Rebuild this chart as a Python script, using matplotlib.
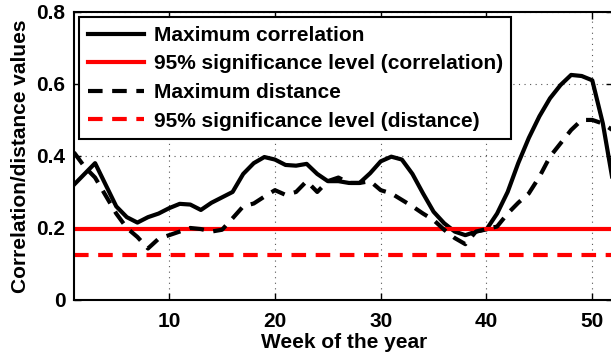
import matplotlib
matplotlib.use("Agg")
from matplotlib import pyplot as plt

weeks = list(range(1, 53))

max_corr = [0.32, 0.35, 0.38, 0.32, 0.26, 0.23, 0.215, 0.23, 0.24, 0.255,
            0.267, 0.265, 0.25, 0.27, 0.285, 0.30, 0.35, 0.38, 0.397, 0.39,
            0.375, 0.373, 0.378, 0.35, 0.33, 0.33, 0.325, 0.325, 0.352, 0.385,
            0.398, 0.39, 0.35, 0.296, 0.245, 0.213, 0.19, 0.18, 0.19, 0.196,
            0.24, 0.30, 0.38, 0.45, 0.51, 0.56, 0.597, 0.625, 0.622, 0.61,
            0.49, 0.32]

max_dist = [0.41, 0.37, 0.34, 0.29, 0.24, 0.20, 0.175, 0.143, 0.17, 0.18,
            0.19, 0.20, 0.197, 0.19, 0.195, 0.227, 0.26, 0.268, 0.287, 0.305,
            0.292, 0.30, 0.33, 0.30, 0.33, 0.34, 0.325, 0.325, 0.33, 0.305,
            0.296, 0.278, 0.26, 0.24, 0.222, 0.195, 0.172, 0.155, 0.19, 0.197,
            0.204, 0.24, 0.27, 0.296, 0.342, 0.398, 0.435, 0.472, 0.50, 0.50,
            0.49, 0.47]

sig_corr = 0.197
sig_dist = 0.124

plt.rcParams['font.family'] = ['Liberation Sans', 'DejaVu Sans']
plt.rcParams['font.weight'] = 'bold'

fig = plt.figure(figsize=(6.11, 3.61), dpi=100)
ax = fig.add_axes([0.121, 0.169, 0.883, 0.798])

lw = 3
ax.plot(weeks, max_corr, color='k', lw=lw, label='Maximum correlation')
ax.axhline(sig_corr, color='#ff0000', lw=lw, label='95% significance level (correlation)')
ax.plot(weeks, max_dist, color='k', lw=lw, dashes=(3.5, 2.3), label='Maximum distance')
ax.axhline(sig_dist, color='#ff0000', lw=lw, dashes=(3.5, 2.3),
           label='95% significance level (distance)')

ax.set_xlim(1, 52)
ax.set_ylim(0, 0.8)
ax.set_xticks([10, 20, 30, 40, 50])
ax.set_yticks([0, 0.2, 0.4, 0.6, 0.8])
ax.set_yticklabels(['0', '0.2', '0.4', '0.6', '0.8'])
ax.tick_params(direction='in', length=5, width=1, top=True, right=True,
               labelsize=15)
ax.tick_params(axis='x', pad=9)
ax.tick_params(axis='y', pad=6)
ax.grid(True, linestyle=(0, (1, 4)), color='#555555', lw=0.8)
for s in ax.spines.values():
    s.set_linewidth(1.5)

ax.set_xlabel('Week of the year', fontsize=15, fontweight='bold', labelpad=1)
ax.set_ylabel('Correlation/distance values', fontsize=15, fontweight='bold', labelpad=5)

leg = ax.legend(loc='upper left', fontsize=15, handlelength=2.7, labelspacing=0.46,
                borderpad=0.42, handletextpad=0.45, fancybox=False, framealpha=1,
                edgecolor='k', borderaxespad=0.25)
leg.get_frame().set_linewidth(1.5)

fig.savefig('out.png', dpi=100)
